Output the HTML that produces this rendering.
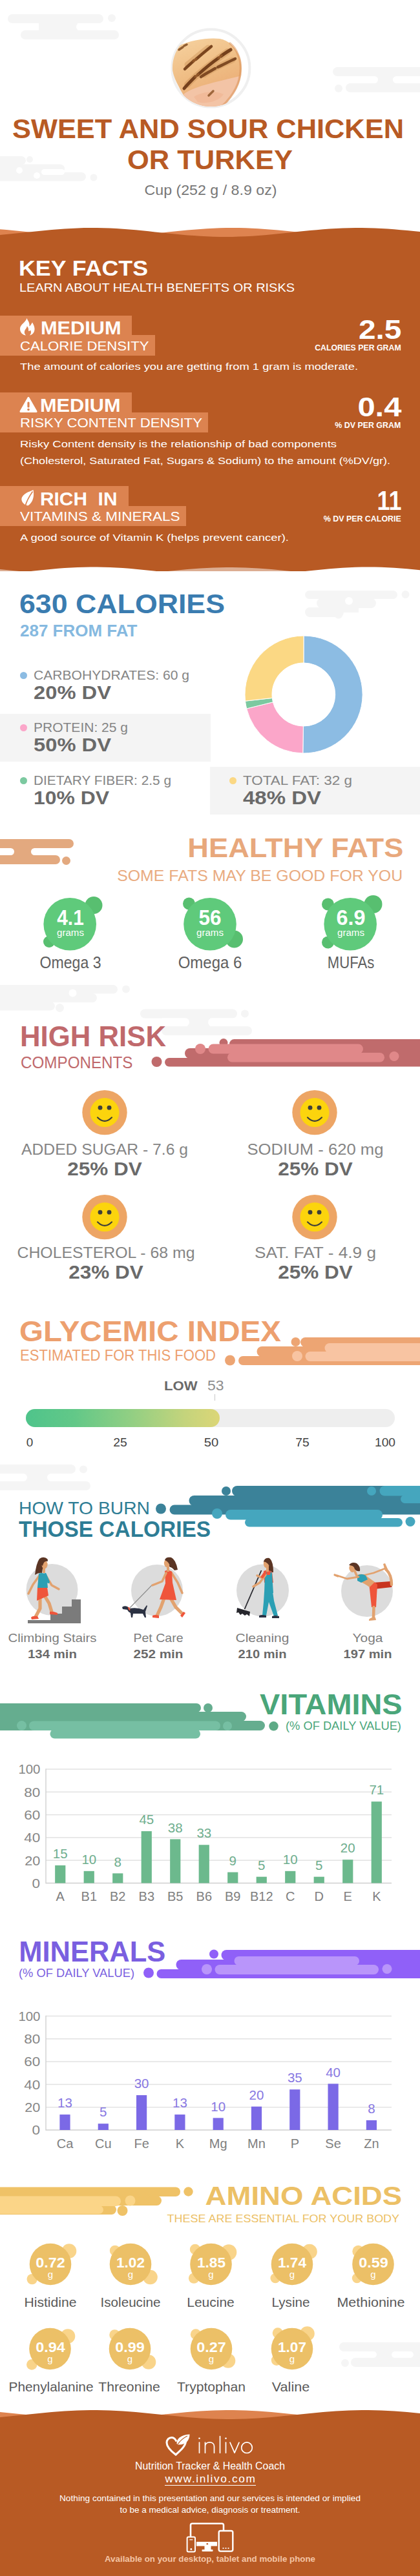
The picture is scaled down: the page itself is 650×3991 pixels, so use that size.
<!DOCTYPE html>
<html><head><meta charset="utf-8"><title>Sweet and sour chicken or turkey</title>
<style>
html,body{margin:0;padding:0;background:#fff}
body{width:650px;height:3991px;position:relative;overflow-x:hidden;font-family:"Liberation Sans",sans-serif}
#pg{position:relative;width:650px;height:3991px;overflow:hidden;background:#fff}
.t{position:absolute;white-space:nowrap;line-height:1}
</style></head><body><div id="pg">
<svg style="position:absolute;left:0;top:0px" width="650" height="400" viewBox="0 0 650 400"><rect x="12.0" y="22.0" width="148.0" height="14.0" rx="7.0" fill="#f5f5f5"/><circle cx="173.0" cy="28.0" r="6.0" fill="#f5f5f5"/><rect x="32.0" y="47.0" width="152.0" height="14.0" rx="7.0" fill="#f5f5f5"/><rect x="60" y="29" width="60" height="25" fill="#f5f5f5"/><rect x="118.0" y="36.0" width="82.0" height="11.0" rx="5.5" fill="#fff"/><rect x="515.0" y="104.0" width="145.0" height="14.0" rx="7.0" fill="#f5f5f5"/><rect x="535.0" y="129.0" width="125.0" height="14.0" rx="7.0" fill="#f5f5f5"/><circle cx="524.0" cy="137.0" r="6.0" fill="#f5f5f5"/><rect x="570" y="111" width="50" height="25" fill="#f5f5f5"/><rect x="608.0" y="118.0" width="52.0" height="11.0" rx="5.5" fill="#fff"/><rect x="540.0" y="118.0" width="45.0" height="11.0" rx="5.5" fill="#fff"/><rect x="-10.0" y="242.0" width="50.0" height="13.5" rx="6.8" fill="#f5f5f5"/><circle cx="46.0" cy="247.0" r="5.0" fill="#f5f5f5"/><rect x="-10.0" y="254.5" width="110.0" height="13.5" rx="6.8" fill="#f5f5f5"/><rect x="-10.0" y="267.0" width="143.0" height="13.5" rx="6.8" fill="#f5f5f5"/><circle cx="145.0" cy="275.0" r="5.5" fill="#f5f5f5"/><circle cx="30.0" cy="264.0" r="5.0" fill="#fff"/><circle cx="57.0" cy="272.0" r="5.0" fill="#fff"/><rect x="64.0" y="262.0" width="36.0" height="9.0" rx="4.5" fill="#fff"/><defs>
<linearGradient id="fg" x1="0" y1="0" x2="0.35" y2="1"><stop offset="0" stop-color="#f6d2a0"/><stop offset="0.55" stop-color="#efbd84"/><stop offset="1" stop-color="#eaa873"/></linearGradient>
<clipPath id="fc"><circle cx="326.4" cy="105.6" r="59.5"/></clipPath></defs>
<circle cx="326.4" cy="105.6" r="60" fill="#fff" stroke="#efefef" stroke-width="4"/>
<g clip-path="url(#fc)">
<path d="M277 71 C295 62 322 58 340 60 C354 62 364 74 369 84 C374 94 375 110 371 124 C366 142 352 160 338 170 L300 170 C292 160 286 152 282 144 C274 130 266 115 266 100 C267 88 270 78 277 71 Z" fill="url(#fg)"/>
<path d="M284 146 C300 134 330 128 371 118 C368 140 352 160 338 172 L300 172 C292 162 287 154 284 146 Z" fill="#f3c4a6"/>
<path d="M300 150 C312 142 334 140 346 146 C340 156 320 162 306 158 Z" fill="#f0b896" opacity=".8"/>
<path d="M356 67 C362 72 366 78 368 84 C373 94 374 110 370 124 C365 142 351 160 337 170" stroke="#d98d52" stroke-width="3.500" fill="none" opacity=".5" stroke-linecap="round"/>
<g stroke-linecap="round" fill="none">
<path d="M290 100 C300 92 310 83 322 74" stroke="#c08448" stroke-width="9" opacity=".35"/>
<path d="M290 131 C304 116 324 100 352 80" stroke="#c08448" stroke-width="10" opacity=".35"/>
<path d="M316 116 C330 106 346 99 360 93" stroke="#c08448" stroke-width="9" opacity=".3"/>
<path d="M277 77 L283 73 M285 71 L289 69" stroke="#7f4a20" stroke-width="3.500" opacity=".85"/>
<path d="M286 107 C291 102 296 98 300 94 M303 92 C310 86 318 79 327 72" stroke="#6f3a15" stroke-width="4.500" opacity=".9"/>
<path d="M299 95 L304 91" stroke="#9a5c2a" stroke-width="3" opacity=".8"/>
<path d="M285 137 C290 131 296 125 302 119 M306 116 C316 107 328 97 338 90 M342 87 C347 83 352 80 357 77" stroke="#693513" stroke-width="5" opacity=".9"/>
<path d="M302 119 L307 115 M338 90 L343 86" stroke="#9a5c2a" stroke-width="3.500" opacity=".8"/>
<path d="M311 119 C318 114 326 110 333 106 M337 104 C346 100 355 95 364 91" stroke="#6f3a15" stroke-width="4.500" opacity=".85"/>
<path d="M323 148 L330 141" stroke="#8a5124" stroke-width="3.500" opacity=".8"/>
</g>
</g><path d="M0,355.3 L10,356.1 L20,357.0 L30,358.0 L40,359.1 L50,360.1 L60,361.2 L70,362.2 L80,363.2 L90,364.1 L100,364.9 L110,365.6 L120,366.2 L130,366.6 L140,366.9 L150,367.0 L160,367.0 L170,366.8 L180,366.4 L190,365.9 L200,365.3 L210,364.5 L220,363.7 L230,362.7 L240,361.7 L250,360.7 L260,359.6 L270,358.6 L280,357.5 L290,356.6 L300,355.7 L310,354.9 L320,354.2 L330,353.7 L340,353.3 L350,353.1 L360,353.0 L370,353.1 L380,353.3 L390,353.7 L400,354.2 L410,354.9 L420,355.7 L430,356.6 L440,357.5 L450,358.6 L460,359.6 L470,360.7 L480,361.7 L490,362.7 L500,363.7 L510,364.5 L520,365.3 L530,365.9 L540,366.4 L550,366.8 L560,367.0 L570,367.0 L580,366.9 L590,366.6 L600,366.2 L610,365.6 L620,364.9 L630,364.1 L640,363.2 L650,362.2 L650,400 L0,400 Z" fill="#de834f"/><path d="M0,364.0 L10,363.1 L20,362.1 L30,361.1 L40,360.0 L50,358.9 L60,357.9 L70,356.9 L80,356.0 L90,355.2 L100,354.5 L110,353.9 L120,353.4 L130,353.1 L140,353.0 L150,353.0 L160,353.2 L170,353.6 L180,354.1 L190,354.7 L200,355.5 L210,356.3 L220,357.3 L230,358.3 L240,359.4 L250,360.4 L260,361.5 L270,362.5 L280,363.5 L290,364.4 L300,365.1 L310,365.8 L320,366.3 L330,366.7 L340,366.9 L350,367.0 L360,366.9 L370,366.6 L380,366.2 L390,365.7 L400,365.0 L410,364.2 L420,363.3 L430,362.3 L440,361.3 L450,360.2 L460,359.1 L470,358.1 L480,357.1 L490,356.2 L500,355.3 L510,354.6 L520,354.0 L530,353.5 L540,353.2 L550,353.0 L560,353.0 L570,353.2 L580,353.5 L590,354.0 L600,354.6 L610,355.3 L620,356.2 L630,357.1 L640,358.1 L650,359.1 L650,400 L0,400 Z" fill="#b85a24"/></svg>
<div class="t" style="top:177.6px;font-size:43px;color:#b85a24;font-weight:700;left:-78.5px;width:800px;text-align:center;transform:scaleX(1.0093);transform-origin:center center;">SWEET AND SOUR CHICKEN</div>
<div class="t" style="top:226.1px;font-size:43px;color:#b85a24;font-weight:700;left:-75.0px;width:800px;text-align:center;transform:scaleX(1.0109);transform-origin:center center;">OR TURKEY</div>
<div class="t" style="top:284.8px;font-size:21.5px;color:#777;left:-74.0px;width:800px;text-align:center;transform:scaleX(1.0788);transform-origin:center center;">Cup (252 g / 8.9 oz)</div>
<div style="position:absolute;left:0;top:385px;width:650px;height:500px;background:#b85a24"></div>
<svg style="position:absolute;left:0;top:860px" width="650" height="45" viewBox="0 860 650 45"><path d="M0,882.1 L10,883.0 L20,883.9 L30,885.0 L40,886.0 L50,887.0 L60,888.1 L70,889.0 L80,889.9 L90,890.8 L100,891.5 L110,892.1 L120,892.5 L130,892.8 L140,893.0 L150,893.0 L160,892.8 L170,892.5 L180,892.1 L190,891.5 L200,890.8 L210,889.9 L220,889.0 L230,888.1 L240,887.0 L250,886.0 L260,885.0 L270,883.9 L280,883.0 L290,882.1 L300,881.2 L310,880.5 L320,879.9 L330,879.5 L340,879.2 L350,879.0 L360,879.0 L370,879.2 L380,879.5 L390,879.9 L400,880.5 L410,881.2 L420,882.1 L430,883.0 L440,883.9 L450,885.0 L460,886.0 L470,887.0 L480,888.1 L490,889.0 L500,889.9 L510,890.8 L520,891.5 L530,892.1 L540,892.5 L550,892.8 L560,893.0 L570,893.0 L580,892.8 L590,892.5 L600,892.1 L610,891.5 L620,890.8 L630,889.9 L640,889.0 L650,888.1 L650,905 L0,905 Z" fill="#fff" opacity=".5"/><path d="M0,890.1 L10,889.1 L20,888.1 L30,887.0 L40,885.9 L50,884.8 L60,883.7 L70,882.7 L80,881.7 L90,880.8 L100,880.1 L110,879.5 L120,879.0 L130,878.7 L140,878.5 L150,878.5 L160,878.7 L170,879.0 L180,879.5 L190,880.1 L200,880.8 L210,881.7 L220,882.7 L230,883.7 L240,884.8 L250,885.9 L260,887.0 L270,888.1 L280,889.1 L290,890.1 L300,890.9 L310,891.7 L320,892.4 L330,892.9 L340,893.3 L350,893.5 L360,893.5 L370,893.4 L380,893.1 L390,892.7 L400,892.1 L410,891.4 L420,890.5 L430,889.6 L440,888.6 L450,887.5 L460,886.4 L470,885.3 L480,884.2 L490,883.2 L500,882.2 L510,881.3 L520,880.5 L530,879.8 L540,879.2 L550,878.8 L560,878.6 L570,878.5 L580,878.6 L590,878.8 L600,879.2 L610,879.8 L620,880.5 L630,881.3 L640,882.2 L650,883.2 L650,905 L0,905 Z" fill="#fff"/></svg>
<div class="t" style="top:398.9px;font-size:33.5px;color:#fff;font-weight:700;left:28.5px;transform:scaleX(1.0673);transform-origin:left center;">KEY FACTS</div>
<div class="t" style="top:438.0px;font-size:17.5px;color:#fff;left:29.5px;transform:scaleX(1.1398);transform-origin:left center;">LEARN ABOUT HEALTH BENEFITS OR RISKS</div>
<div style="position:absolute;left:0;top:488.5px;width:204px;height:31px;background:#dc8350"></div>
<div style="position:absolute;left:0;top:519.0px;width:240px;height:31.5px;background:#dc8350"></div>
<svg style="position:absolute;left:30.5px;top:492.5px;" width="23" height="27" viewBox="0 0 23 27"><path d="M10.5 0 C12 4 15.5 7 14.3 12.5 C16.5 11.5 17.5 9 19 6.5 C21 10 22.8 13.5 22.5 17.5 C22.2 23 18 26.5 14.8 26.5 C17 24.5 17.8 21 16 18.5 C15 20 13.8 20.3 13 19.5 C13.5 16.5 12.5 14 10.8 12.3 C10.5 16 6.8 17.8 6.8 21.8 C6.8 24 8 25.6 9.3 26.5 C4.5 26.3 0 22.5 0 16.5 C0 9.5 8.5 7 10.5 0 Z" fill="#fff"/></svg>
<div class="t" style="top:492.7px;font-size:29.5px;color:#fff;font-weight:700;left:62.5px;transform:scaleX(1.0406);transform-origin:left center;">MEDIUM</div>
<div class="t" style="top:525.6px;font-size:20.5px;color:#fff;left:31.0px;transform:scaleX(1.0810);transform-origin:left center;">CALORIE DENSITY</div>
<div class="t" style="top:489.9px;font-size:42px;color:#fff;font-weight:700;right:29.0px;transform:scaleX(1.1389);transform-origin:right center;">2.5</div>
<div class="t" style="top:533.0px;font-size:12.8px;color:#fff;font-weight:700;right:29.7px;transform:scaleX(0.9628);transform-origin:right center;">CALORIES PER GRAM</div>
<div class="t" style="top:560.4px;font-size:15.5px;color:#fff;left:30.5px;transform:scaleX(1.1833);transform-origin:left center;">The amount of calories you are getting from 1 gram is moderate.</div>
<div style="position:absolute;left:0;top:608.3px;width:204px;height:31px;background:#dc8350"></div>
<div style="position:absolute;left:0;top:638.8px;width:322px;height:31.5px;background:#dc8350"></div>
<svg style="position:absolute;left:29.5px;top:614.5px;" width="28" height="25" viewBox="0 0 28 25"><path d="M14 1.5 L26 22.5 L2 22.5 Z" fill="#fff" stroke="#fff" stroke-width="3" stroke-linejoin="round"/><rect x="12.4" y="7.5" width="3.2" height="9" rx="1.5" fill="#dc8350"/><circle cx="14" cy="19.6" r="1.8" fill="#dc8350"/></svg>
<div class="t" style="top:612.5px;font-size:29.5px;color:#fff;font-weight:700;left:61.5px;transform:scaleX(1.0406);transform-origin:left center;">MEDIUM</div>
<div class="t" style="top:645.4px;font-size:20.5px;color:#fff;left:31.0px;transform:scaleX(1.0842);transform-origin:left center;">RISKY CONTENT DENSITY</div>
<div class="t" style="top:609.7px;font-size:42px;color:#fff;font-weight:700;right:29.0px;transform:scaleX(1.1646);transform-origin:right center;">0.4</div>
<div class="t" style="top:652.8px;font-size:12.8px;color:#fff;font-weight:700;right:29.7px;transform:scaleX(0.9693);transform-origin:right center;">% DV PER GRAM</div>
<div class="t" style="top:680.2px;font-size:15.5px;color:#fff;left:30.5px;transform:scaleX(1.1923);transform-origin:left center;">Risky Content density is the relationship of bad components</div>
<div class="t" style="top:706.2px;font-size:15.5px;color:#fff;left:30.5px;transform:scaleX(1.1648);transform-origin:left center;">(Cholesterol, Saturated Fat, Sugars &amp; Sodium) to the amount (%DV/gr).</div>
<div style="position:absolute;left:0;top:753.3px;width:199px;height:31px;background:#dc8350"></div>
<div style="position:absolute;left:0;top:783.8px;width:288px;height:31.5px;background:#dc8350"></div>
<svg style="position:absolute;left:32.5px;top:758.5px;" width="20" height="25" viewBox="0 0 20 25"><path d="M18.5 0 C20 8 19 18 11 24 C9 24.5 7.5 24 6.5 23 C2 21 -1 16 1 11.5 C4 5 12 3 18.5 0 Z" fill="#fff"/><path d="M17.5 2.5 C13 9 8.5 16 6.3 24.5" stroke="#dc8350" stroke-width="1.7" fill="none"/></svg>
<div class="t" style="top:757.5px;font-size:29.5px;color:#fff;font-weight:700;left:62.0px;transform:scaleX(1.0127);transform-origin:left center;">RICH &nbsp;IN</div>
<div class="t" style="top:790.4px;font-size:20.5px;color:#fff;left:31.0px;transform:scaleX(1.0992);transform-origin:left center;">VITAMINS &amp; MINERALS</div>
<div class="t" style="top:754.7px;font-size:42px;color:#fff;font-weight:700;right:29.0px;transform:scaleX(0.8557);transform-origin:right center;">11</div>
<div class="t" style="top:797.8px;font-size:12.8px;color:#fff;font-weight:700;right:29.7px;transform:scaleX(0.9698);transform-origin:right center;">% DV PER CALORIE</div>
<div class="t" style="top:825.2px;font-size:15.5px;color:#fff;left:30.5px;transform:scaleX(1.1902);transform-origin:left center;">A good source of Vitamin K (helps prevent cancer).</div>
<svg style="position:absolute;left:0;top:905px" width="650" height="60" viewBox="0 905 650 60"><rect x="472.0" y="915.0" width="143.0" height="13.0" rx="6.5" fill="#f5f5f5"/><circle cx="627.5" cy="921.0" r="6.0" fill="#f5f5f5"/><rect x="490.0" y="927.0" width="92.0" height="15.0" rx="7.5" fill="#f5f5f5"/><rect x="472.0" y="941.0" width="60.0" height="15.0" rx="7.5" fill="#f5f5f5"/><rect x="495" y="921" width="60" height="28" fill="#f5f5f5"/><circle cx="540.0" cy="931.0" r="6.0" fill="#fff"/><circle cx="524.0" cy="952.0" r="6.5" fill="#f5f5f5"/></svg>
<div class="t" style="top:914.7px;font-size:42px;color:#3a7cb0;font-weight:700;left:29.5px;transform:scaleX(1.0644);transform-origin:left center;">630 CALORIES</div>
<div class="t" style="top:965.4px;font-size:25.5px;color:#85b9e0;font-weight:700;left:30.5px;transform:scaleX(1.0193);transform-origin:left center;">287 FROM FAT</div>
<div style="position:absolute;left:0;top:1106px;width:325.500px;height:73.700px;background:#f4f4f4"></div>
<div style="position:absolute;left:325px;top:1188px;width:325px;height:73.700px;background:#f4f4f4"></div>
<div style="position:absolute;left:31.2px;top:1040.8px;width:11px;height:11px;border-radius:50%;background:#8cbce3"></div>
<div class="t" style="top:1035.9px;font-size:20.5px;color:#858585;left:52.0px;transform:scaleX(1.0285);transform-origin:left center;">CARBOHYDRATES: 60 g</div>
<div class="t" style="top:1058.3px;font-size:29.5px;color:#6a6a6a;font-weight:700;left:52.0px;transform:scaleX(1.1087);transform-origin:left center;">20% DV</div>
<div style="position:absolute;left:31.2px;top:1121.5px;width:11px;height:11px;border-radius:50%;background:#fba6c9"></div>
<div class="t" style="top:1116.6px;font-size:20.5px;color:#858585;left:52.0px;transform:scaleX(1.0251);transform-origin:left center;">PROTEIN: 25 g</div>
<div class="t" style="top:1139.0px;font-size:29.5px;color:#6a6a6a;font-weight:700;left:52.0px;transform:scaleX(1.1087);transform-origin:left center;">50% DV</div>
<div style="position:absolute;left:31.2px;top:1203.5px;width:11px;height:11px;border-radius:50%;background:#7cc9a0"></div>
<div class="t" style="top:1198.6px;font-size:20.5px;color:#858585;left:52.0px;transform:scaleX(1.0160);transform-origin:left center;">DIETARY FIBER: 2.5 g</div>
<div class="t" style="top:1221.0px;font-size:29.5px;color:#6a6a6a;font-weight:700;left:52.0px;transform:scaleX(1.0810);transform-origin:left center;">10% DV</div>
<div style="position:absolute;left:355.0px;top:1203.5px;width:11px;height:11px;border-radius:50%;background:#fbd884"></div>
<div class="t" style="top:1198.6px;font-size:20.5px;color:#858585;left:375.8px;transform:scaleX(1.0960);transform-origin:left center;">TOTAL FAT: 32 g</div>
<div class="t" style="top:1221.0px;font-size:29.5px;color:#6a6a6a;font-weight:700;left:375.8px;transform:scaleX(1.1179);transform-origin:left center;">48% DV</div>
<svg style="position:absolute;left:0;top:980px" width="650" height="192" viewBox="0 980 650 192"><path d="M470.00,985.00 A91,91 0 1 1 468.80,1166.99 L469.36,1125.00 A49,49 0 1 0 470.00,1027.00 Z" fill="#8cbce3" stroke="#fff" stroke-width="1"/><path d="M468.80,1166.99 A91,91 0 0 1 381.68,1097.91 L422.44,1087.80 A49,49 0 0 0 469.36,1125.00 Z" fill="#fba6c9" stroke="#fff" stroke-width="1"/><path d="M381.68,1097.91 A91,91 0 0 1 379.57,1086.15 L421.31,1081.46 A49,49 0 0 0 422.44,1087.80 Z" fill="#7cc9a0" stroke="#fff" stroke-width="1"/><path d="M379.57,1086.15 A91,91 0 0 1 470.00,985.00 L470.00,1027.00 A49,49 0 0 0 421.31,1081.46 Z" fill="#fbd884" stroke="#fff" stroke-width="1"/></svg>
<svg style="position:absolute;left:0;top:1290px" width="650" height="60" viewBox="0 1290 650 60"><rect x="-20.0" y="1300.0" width="134.0" height="14.0" rx="7.0" fill="#e3a97f"/><rect x="-20.0" y="1325.0" width="113.0" height="14.0" rx="7.0" fill="#e3a97f"/><rect x="10" y="1307" width="50" height="25" fill="#e3a97f"/><rect x="-20.0" y="1314.0" width="42.0" height="11.0" rx="5.5" fill="#fff"/><rect x="48.0" y="1314.0" width="82.0" height="11.0" rx="5.5" fill="#fff"/><circle cx="102.5" cy="1333.5" r="6.5" fill="#e3a97f"/></svg>
<div class="t" style="top:1292.9px;font-size:42px;color:#e8a87c;font-weight:700;right:25.5px;transform:scaleX(1.0762);transform-origin:right center;">HEALTHY FATS</div>
<div class="t" style="top:1344.8px;font-size:24.5px;color:#e9ab80;right:27.0px;transform:scaleX(1.0157);transform-origin:right center;">SOME FATS MAY BE GOOD FOR YOU</div>
<svg style="position:absolute;left:0;top:1380px" width="650" height="100" viewBox="0 1380 650 100"><circle cx="145.0" cy="1402.5" r="13.5" fill="#58bf70"/><circle cx="76.0" cy="1459.0" r="9.0" fill="#58bf70"/><circle cx="108.2" cy="1431.8" r="40.8" fill="#5fca7b"/><circle cx="292.5" cy="1400.0" r="9.5" fill="#58bf70"/><circle cx="362.5" cy="1455.0" r="13.5" fill="#58bf70"/><circle cx="325.0" cy="1431.8" r="40.8" fill="#5fca7b"/><circle cx="507.5" cy="1401.0" r="9.5" fill="#58bf70"/><circle cx="577.5" cy="1401.0" r="14.0" fill="#58bf70"/><circle cx="507.5" cy="1460.0" r="9.5" fill="#58bf70"/><circle cx="542.2" cy="1431.8" r="40.8" fill="#5fca7b"/></svg>
<div class="t" style="top:1404.6px;font-size:33px;color:#fff;font-weight:700;left:-291.5px;width:800px;text-align:center;transform:scaleX(0.9046);transform-origin:center center;">4.1</div>
<div class="t" style="top:1436.9px;font-size:15.5px;color:#fff;left:-291.5px;width:800px;text-align:center;transform:scaleX(0.9750);transform-origin:center center;">grams</div>
<div class="t" style="top:1479.4px;font-size:25.5px;color:#606060;left:-291.5px;width:800px;text-align:center;transform:scaleX(0.9057);transform-origin:center center;">Omega 3</div>
<div class="t" style="top:1404.6px;font-size:33px;color:#fff;font-weight:700;left:-75.0px;width:800px;text-align:center;transform:scaleX(0.9532);transform-origin:center center;">56</div>
<div class="t" style="top:1436.9px;font-size:15.5px;color:#fff;left:-75.0px;width:800px;text-align:center;transform:scaleX(0.9750);transform-origin:center center;">grams</div>
<div class="t" style="top:1479.4px;font-size:25.5px;color:#606060;left:-75.0px;width:800px;text-align:center;transform:scaleX(0.9391);transform-origin:center center;">Omega 6</div>
<div class="t" style="top:1404.6px;font-size:33px;color:#fff;font-weight:700;left:142.5px;width:800px;text-align:center;transform:scaleX(0.9809);transform-origin:center center;">6.9</div>
<div class="t" style="top:1436.9px;font-size:15.5px;color:#fff;left:142.5px;width:800px;text-align:center;transform:scaleX(0.9750);transform-origin:center center;">grams</div>
<div class="t" style="top:1479.4px;font-size:25.5px;color:#606060;left:142.5px;width:800px;text-align:center;transform:scaleX(0.8673);transform-origin:center center;">MUFAs</div>
<svg style="position:absolute;left:0;top:1520px" width="650" height="90" viewBox="0 1520 650 90"><rect x="-20.0" y="1526.0" width="202.0" height="13.5" rx="6.8" fill="#f5f5f5"/><circle cx="195.0" cy="1532.5" r="6.0" fill="#f5f5f5"/><rect x="-20.0" y="1539.0" width="170.0" height="14.0" rx="7.0" fill="#f5f5f5"/><rect x="-20.0" y="1552.0" width="105.0" height="13.5" rx="6.8" fill="#f5f5f5"/><circle cx="92.5" cy="1561.5" r="6.5" fill="#f5f5f5"/><circle cx="112.5" cy="1538.5" r="6.0" fill="#fff"/><rect x="217.0" y="1563.5" width="150.0" height="14.0" rx="7.0" fill="#f5f5f5"/><circle cx="379.0" cy="1570.5" r="6.0" fill="#f5f5f5"/><rect x="250.0" y="1590.0" width="140.0" height="14.0" rx="7.0" fill="#f5f5f5"/><rect x="290" y="1570" width="35" height="27" fill="#f5f5f5"/><rect x="322.0" y="1577.5" width="50.0" height="12.5" rx="6.2" fill="#fff"/><rect x="245.0" y="1577.5" width="48.0" height="12.5" rx="6.2" fill="#fff"/></svg>
<div class="t" style="top:1582.9px;font-size:45px;color:#c0696c;font-weight:700;left:30.5px;transform:scaleX(0.9720);transform-origin:left center;">HIGH RISK</div>
<div class="t" style="top:1633.0px;font-size:26px;color:#c0696c;left:32.0px;transform:scaleX(0.9311);transform-origin:left center;">COMPONENTS</div>
<svg style="position:absolute;left:0;top:1600px" width="650" height="60" viewBox="0 1600 650 60"><circle cx="242.5" cy="1645.0" r="8.0" fill="#c06b6c"/><rect x="255.0" y="1639.0" width="415.0" height="13.5" rx="6.8" fill="#c06b6c"/><rect x="286.0" y="1624.0" width="384.0" height="16.0" rx="8.0" fill="#c06b6c"/><rect x="355.0" y="1610.0" width="315.0" height="15.0" rx="7.5" fill="#c06b6c"/><rect x="300" y="1632" width="360" height="14" fill="#c06b6c"/><rect x="370" y="1617" width="290" height="14" fill="#c06b6c"/><circle cx="346.0" cy="1615.5" r="6.5" fill="#c06b6c"/><circle cx="310.0" cy="1625.0" r="8.0" fill="#e08889"/><rect x="322.5" y="1617.5" width="239.5" height="15.0" rx="7.5" fill="#e08889"/><rect x="352.0" y="1631.0" width="243.0" height="14.5" rx="7.2" fill="#e08889"/><rect x="360" y="1625" width="195" height="14" fill="#e08889"/><circle cx="610.0" cy="1636.5" r="7.5" fill="#e08889"/></svg>
<svg style="position:absolute;left:0;top:1680px" width="650" height="245" viewBox="0 1680 650 245"><circle cx="162.0" cy="1723.6" r="34.7" fill="#eda565"/><circle cx="162.0" cy="1723.6" r="22.5" fill="#fcd40d"/><circle cx="155.0" cy="1716.2" r="3.4" fill="#3f3f3a"/><circle cx="169.0" cy="1716.2" r="3.4" fill="#3f3f3a"/><path d="M151,1731.3 Q162,1742.5 173,1731.3" stroke="#3f3f3a" stroke-width="2.2" fill="none" stroke-linecap="round"/><circle cx="487.0" cy="1723.6" r="34.7" fill="#eda565"/><circle cx="487.0" cy="1723.6" r="22.5" fill="#fcd40d"/><circle cx="480.0" cy="1716.2" r="3.4" fill="#3f3f3a"/><circle cx="494.0" cy="1716.2" r="3.4" fill="#3f3f3a"/><path d="M476,1731.3 Q487,1742.5 498,1731.3" stroke="#3f3f3a" stroke-width="2.2" fill="none" stroke-linecap="round"/><circle cx="162.0" cy="1885.6" r="34.7" fill="#eda565"/><circle cx="162.0" cy="1885.6" r="22.5" fill="#fcd40d"/><circle cx="155.0" cy="1878.2" r="3.4" fill="#3f3f3a"/><circle cx="169.0" cy="1878.2" r="3.4" fill="#3f3f3a"/><path d="M151,1893.3 Q162,1904.5 173,1893.3" stroke="#3f3f3a" stroke-width="2.2" fill="none" stroke-linecap="round"/><circle cx="487.0" cy="1885.6" r="34.7" fill="#eda565"/><circle cx="487.0" cy="1885.6" r="22.5" fill="#fcd40d"/><circle cx="480.0" cy="1878.2" r="3.4" fill="#3f3f3a"/><circle cx="494.0" cy="1878.2" r="3.4" fill="#3f3f3a"/><path d="M476,1893.3 Q487,1904.5 498,1893.3" stroke="#3f3f3a" stroke-width="2.2" fill="none" stroke-linecap="round"/></svg>
<div class="t" style="top:1768.6px;font-size:24.5px;color:#858585;left:-238.0px;width:800px;text-align:center;transform:scaleX(1.0079);transform-origin:center center;">ADDED SUGAR - 7.6 g</div>
<div class="t" style="top:1797.0px;font-size:29px;color:#6a6a6a;font-weight:700;left:-238.0px;width:800px;text-align:center;transform:scaleX(1.0856);transform-origin:center center;">25% DV</div>
<div class="t" style="top:1768.6px;font-size:24.5px;color:#858585;left:88.0px;width:800px;text-align:center;transform:scaleX(1.0471);transform-origin:center center;">SODIUM - 620 mg</div>
<div class="t" style="top:1797.0px;font-size:29px;color:#6a6a6a;font-weight:700;left:88.0px;width:800px;text-align:center;transform:scaleX(1.0856);transform-origin:center center;">25% DV</div>
<div class="t" style="top:1928.6px;font-size:24.5px;color:#858585;left:-236.0px;width:800px;text-align:center;transform:scaleX(1.0133);transform-origin:center center;">CHOLESTEROL - 68 mg</div>
<div class="t" style="top:1957.0px;font-size:29px;color:#6a6a6a;font-weight:700;left:-236.0px;width:800px;text-align:center;transform:scaleX(1.0856);transform-origin:center center;">23% DV</div>
<div class="t" style="top:1928.6px;font-size:24.5px;color:#858585;left:88.0px;width:800px;text-align:center;transform:scaleX(1.0703);transform-origin:center center;">SAT. FAT - 4.9 g</div>
<div class="t" style="top:1957.0px;font-size:29px;color:#6a6a6a;font-weight:700;left:88.0px;width:800px;text-align:center;transform:scaleX(1.0856);transform-origin:center center;">25% DV</div>
<div class="t" style="top:2039.9px;font-size:45px;color:#eda06f;font-weight:700;left:30.0px;transform:scaleX(1.0563);transform-origin:left center;">GLYCEMIC INDEX</div>
<div class="t" style="top:2089.2px;font-size:23px;color:#eda06f;left:30.5px;transform:scaleX(0.9587);transform-origin:left center;">ESTIMATED FOR THIS FOOD</div>
<svg style="position:absolute;left:0;top:2060px" width="650" height="65" viewBox="0 2060 650 65"><circle cx="356.0" cy="2107.5" r="8.0" fill="#eda573"/><rect x="369.0" y="2101.0" width="301.0" height="14.0" rx="7.0" fill="#eda573"/><rect x="397.5" y="2086.0" width="272.5" height="16.0" rx="8.0" fill="#eda573"/><rect x="465.0" y="2072.0" width="205.0" height="15.0" rx="7.5" fill="#eda573"/><rect x="410" y="2094" width="250" height="14" fill="#eda573"/><rect x="480" y="2079" width="180" height="14" fill="#eda573"/><circle cx="457.5" cy="2079.0" r="7.0" fill="#eda573"/><circle cx="460.0" cy="2101.0" r="8.0" fill="#f8c4a2"/><rect x="472.5" y="2094.0" width="197.5" height="15.0" rx="7.5" fill="#f8c4a2"/><rect x="502.5" y="2081.0" width="167.5" height="15.0" rx="7.5" fill="#f8c4a2"/><rect x="515" y="2088" width="140" height="14" fill="#f8c4a2"/></svg>
<div class="t" style="top:2136.6px;font-size:20.5px;color:#6a6a6a;font-weight:700;left:254.0px;transform:scaleX(1.0768);transform-origin:left center;">LOW</div>
<div class="t" style="top:2135.9px;font-size:22px;color:#8e8e8e;left:320.5px;transform:scaleX(1.0415);transform-origin:left center;">53</div>
<div style="position:absolute;left:331.500px;top:2160px;width:1.500px;height:10px;background:#c8c8c8"></div>
<div style="position:absolute;left:40px;top:2183px;width:571px;height:28px;border-radius:14px;background:#eeeeee"></div>
<div style="position:absolute;left:40px;top:2183px;width:300px;height:28px;border-radius:14px;background:linear-gradient(90deg,#4fc48b 0%,#62c888 25%,#93cf83 55%,#c4d47c 82%,#dcd677 100%)"></div>
<div class="t" style="top:2225.8px;font-size:18.5px;color:#444;left:-354.0px;width:800px;text-align:center;transform:scaleX(1.0197);transform-origin:center center;">0</div>
<div class="t" style="top:2225.8px;font-size:18.5px;color:#444;left:-214.0px;width:800px;text-align:center;transform:scaleX(1.0448);transform-origin:center center;">25</div>
<div class="t" style="top:2225.8px;font-size:18.5px;color:#444;left:-73.0px;width:800px;text-align:center;transform:scaleX(1.0934);transform-origin:center center;">50</div>
<div class="t" style="top:2225.8px;font-size:18.5px;color:#444;left:68.0px;width:800px;text-align:center;transform:scaleX(1.0448);transform-origin:center center;">75</div>
<div class="t" style="top:2225.8px;font-size:18.5px;color:#444;left:196.0px;width:800px;text-align:center;transform:scaleX(1.0364);transform-origin:center center;">100</div>
<svg style="position:absolute;left:0;top:2262px" width="650" height="50" viewBox="0 2262 650 50"><rect x="-20.0" y="2269.0" width="137.0" height="14.0" rx="7.0" fill="#f5f5f5"/><circle cx="129.0" cy="2276.5" r="6.0" fill="#f5f5f5"/><rect x="-20.0" y="2295.0" width="160.0" height="14.0" rx="7.0" fill="#f5f5f5"/><rect x="30" y="2276" width="55" height="26" fill="#f5f5f5"/><rect x="-20.0" y="2283.0" width="62.0" height="12.0" rx="6.0" fill="#fff"/><rect x="73.0" y="2283.0" width="77.0" height="12.0" rx="6.0" fill="#fff"/></svg>
<div class="t" style="top:2321.9px;font-size:28.5px;color:#2e7d95;left:29.0px;transform:scaleX(0.9912);transform-origin:left center;">HOW TO BURN</div>
<div class="t" style="top:2351.8px;font-size:34.5px;color:#2e7d95;font-weight:700;left:29.0px;transform:scaleX(0.9684);transform-origin:left center;">THOSE CALORIES</div>
<svg style="position:absolute;left:0;top:2295px" width="650" height="77" viewBox="0 2295 650 77"><circle cx="249.0" cy="2337.5" r="8.0" fill="#3b8299"/><rect x="262.5" y="2331.5" width="407.5" height="15.0" rx="7.5" fill="#3b8299"/><rect x="292.5" y="2317.0" width="377.5" height="16.0" rx="8.0" fill="#3b8299"/><rect x="359.0" y="2302.0" width="311.0" height="16.0" rx="8.0" fill="#3b8299"/><rect x="306" y="2324" width="350" height="14" fill="#3b8299"/><rect x="372" y="2309" width="290" height="14" fill="#3b8299"/><circle cx="350.0" cy="2310.0" r="7.0" fill="#3b8299"/><circle cx="336.0" cy="2345.0" r="8.0" fill="#45a6be"/><rect x="349.0" y="2339.0" width="243.0" height="15.5" rx="7.8" fill="#45a6be"/><rect x="379.0" y="2352.0" width="244.0" height="13.5" rx="6.8" fill="#45a6be"/><rect x="386" y="2346" width="197" height="13" fill="#45a6be"/><circle cx="635.0" cy="2357.5" r="7.5" fill="#45a6be"/><circle cx="575.0" cy="2310.0" r="7.0" fill="#45a6be"/><rect x="587.5" y="2302.0" width="82.5" height="15.5" rx="7.8" fill="#45a6be"/><rect x="620.0" y="2316.0" width="50.0" height="13.0" rx="6.5" fill="#45a6be"/><rect x="627" y="2309" width="30" height="14" fill="#45a6be"/></svg>
<svg style="position:absolute;left:0;top:2405px" width="650" height="115" viewBox="0 2405 650 115"><circle cx="80.5" cy="2463.0" r="40.0" fill="#dcdcdc"/><path d="M43 2510 H78 V2500 H96 V2489 H111 V2478 H125 V2515 H43 Z" fill="#7b7b7b"/><path d="M61 2441 L51 2455 L44 2469" stroke="#e2a26f" stroke-width="3.5" fill="none" stroke-linecap="round" stroke-linejoin="round"/><path d="M62 2476 L62 2492 L55 2505" stroke="#e2a26f" stroke-width="5.2" fill="none" stroke-linecap="round" stroke-linejoin="round"/><path d="M48 2506 Q50 2503 58 2504 L60 2508 L49 2509 Z" fill="#ef553b"/><path d="M70 2474 L76 2484 L80 2497" stroke="#e2a26f" stroke-width="5.2" fill="none" stroke-linecap="round" stroke-linejoin="round"/><path d="M77 2497 Q82 2496 89 2499 L89 2502 L77 2501 Z" fill="#ef553b"/><path d="M58 2459 L73 2459 L75 2472 L57 2480 Z" fill="#ef553b"/><path d="M60 2438 Q66 2435 72 2440 L74 2460 L58 2460 Z" fill="#2b9fb4"/><path d="M72 2443 L80 2456 L91 2462" stroke="#e2a26f" stroke-width="3.5" fill="none" stroke-linecap="round" stroke-linejoin="round"/><path d="M70 2439 L75 2451" stroke="#2b9fb4" stroke-width="4" stroke-linecap="round"/><rect x="66" y="2428" width="4" height="9" fill="#e2a26f"/><path d="M54 2440 Q56 2422 61 2415 Q68 2410 74 2416 L70 2421 Q66 2426 65 2437 Q60 2436 54 2440 Z" fill="#5b3524"/><ellipse cx="69" cy="2424" rx="4.6" ry="6.4" fill="#e2a26f"/><path d="M63 2424 Q62 2414 69 2414 Q74 2414 74 2419 Q68 2417 66 2426 Z" fill="#5b3524"/><circle cx="243.0" cy="2464.0" r="40.0" fill="#dcdcdc"/><path d="M235 2456 L201 2491" stroke="#8c8c8c" stroke-width="1.1"/><path d="M189 2490 Q192 2487 197 2489 L201 2492 Q212 2490 222 2494 L227 2487 L228 2488 L225 2497 L226 2506 L224 2506 L221 2500 L206 2500 L205 2506 L203 2506 L202 2499 Q198 2497 197 2494 L190 2493 Z" fill="#2b3142"/><rect x="198.5" y="2490" width="2.2" height="5" fill="#ef553b" transform="rotate(-25 199.5 2492)"/><path d="M265 2436 L275 2452 L282 2468" stroke="#e2a26f" stroke-width="3.5" fill="none" stroke-linecap="round" stroke-linejoin="round"/><path d="M264 2476 L272 2490 L281 2499" stroke="#e2a26f" stroke-width="5.2" fill="none" stroke-linecap="round" stroke-linejoin="round"/><path d="M279 2503 L284 2497 L287 2499 L282 2506 Z" fill="#ef553b"/><path d="M254 2476 L249 2490 L243 2503" stroke="#e2a26f" stroke-width="5.2" fill="none" stroke-linecap="round" stroke-linejoin="round"/><path d="M236 2503 Q240 2501 246 2503 L246 2507 L236 2506 Z" fill="#ef553b"/><path d="M255 2434 Q260 2431 266 2435 L267 2452 L273 2479 L247 2478 L256 2453 Z" fill="#ef553b"/><path d="M257 2437 L251 2450 L236 2456" stroke="#e2a26f" stroke-width="3.5" fill="none" stroke-linecap="round" stroke-linejoin="round"/><rect x="258" y="2427" width="4" height="8" fill="#e2a26f"/><path d="M256 2418 Q258 2412 265 2413 Q272 2416 275 2432 L270 2433 Q266 2428 263 2428 Z" fill="#5b3524"/><ellipse cx="258.5" cy="2422" rx="4.6" ry="6.2" fill="#e2a26f"/><path d="M255 2417 Q257 2412 263 2413 Q266 2418 263 2427 Q262 2420 255 2417 Z" fill="#5b3524"/><circle cx="406.5" cy="2464.0" r="40.5" fill="#dcdcdc"/><path d="M408 2420 Q411 2413 418 2415 Q423 2420 423 2436 L416 2436 Z" fill="#5b3524"/><path d="M409 2466 L422 2466 L424 2480 L430 2503 L424 2504 L416 2482 L412 2503 L406 2503 L408 2482 Z" fill="#2b9fb4"/><path d="M401 2503 Q405 2501 412 2503 L412 2506 L401 2506 Z" fill="#2b3142"/><path d="M421 2504 Q426 2502 432 2504 L432 2507 L421 2507 Z" fill="#2b3142"/><path d="M408 2434 Q415 2431 421 2435 L423 2452 L409 2452 Z" fill="#ef553b"/><path d="M410 2438 L412 2434 L413 2440 L418 2440 L419 2434 L421 2438 L423 2468 L409 2468 Z" fill="#2b9fb4"/><path d="M404.5 2433 L378.5 2493" stroke="#2a2a30" stroke-width="1.8"/><path d="M367 2491 L387 2497 L386 2504 L382 2501 L379 2503 L375 2500 L372 2502 L369 2498 L366 2499 Z" fill="#26262c"/><path d="M410 2438 L404 2444 L398 2441" stroke="#e2a26f" stroke-width="3.5" fill="none" stroke-linecap="round" stroke-linejoin="round"/><path d="M411 2440 L402 2452 L392 2458" stroke="#e2a26f" stroke-width="3.5" fill="none" stroke-linecap="round" stroke-linejoin="round"/><path d="M410 2437 L406 2443" stroke="#ef553b" stroke-width="4.4" stroke-linecap="round"/><rect x="412" y="2427" width="4" height="8" fill="#e2a26f"/><ellipse cx="412.5" cy="2423" rx="4.6" ry="6.2" fill="#e2a26f"/><path d="M408 2419 Q410 2413 417 2414 Q420 2420 418 2430 Q416 2421 408 2419 Z" fill="#5b3524"/><circle cx="568.0" cy="2465.0" r="40.0" fill="#dcdcdc"/><path d="M577 2452 L604 2450 Q609 2453 606 2459 L579 2462 Z" fill="#c8341f"/><path d="M606 2455 Q606 2440 598 2432" stroke="#e2a26f" stroke-width="4.4" fill="none" stroke-linecap="round"/><path d="M596 2434 L593 2423 L596 2422 L600 2431 Z" fill="#e2a26f"/><path d="M561 2441 L578 2437 L596 2430" stroke="#e2a26f" stroke-width="2.8" fill="none" stroke-linecap="round" stroke-linejoin="round"/><path d="M571 2452 Q578 2448 584 2455 L582 2490 L575 2490 Z" fill="#ef553b"/><path d="M578.5 2490 L578 2506" stroke="#e2a26f" stroke-width="4.6" stroke-linecap="round"/><path d="M571 2509 Q575 2505 581 2506 L582 2510 L571 2511 Z" fill="#e2a26f"/><path d="M553 2440 Q560 2437 566 2441 L580 2451 L572 2459 Q562 2452 554 2449 Z" fill="#e2a26f"/><path d="M553 2441 Q560 2437 566 2441 L569 2447 L559 2452 L553 2449 Z" fill="#2b9fb4"/><path d="M555 2443 L537 2446 L522 2441" stroke="#e2a26f" stroke-width="2.8" fill="none" stroke-linecap="round" stroke-linejoin="round"/><path d="M523 2442 L518 2440" stroke="#e2a26f" stroke-width="3.2" stroke-linecap="round"/><path d="M549 2434 L552 2441" stroke="#e2a26f" stroke-width="3.6" stroke-linecap="round"/><ellipse cx="545" cy="2430" rx="4.6" ry="6" fill="#e2a26f" transform="rotate(-15 545 2430)"/><path d="M540 2425 Q544 2419 552 2422 Q558 2427 557 2434 Q552 2435 549 2431 Q548 2425 540 2425 Z" fill="#5b3524"/></svg>
<div class="t" style="top:2529.3px;font-size:18.5px;color:#7d7d7d;left:-319.5px;width:800px;text-align:center;transform:scaleX(1.1012);transform-origin:center center;">Climbing Stairs</div>
<div class="t" style="top:2554.3px;font-size:18.5px;color:#6a6a6a;font-weight:700;left:-319.5px;width:800px;text-align:center;transform:scaleX(1.1029);transform-origin:center center;">134 min</div>
<div class="t" style="top:2529.3px;font-size:18.5px;color:#7d7d7d;left:-155.5px;width:800px;text-align:center;transform:scaleX(1.0546);transform-origin:center center;">Pet Care</div>
<div class="t" style="top:2554.3px;font-size:18.5px;color:#6a6a6a;font-weight:700;left:-155.5px;width:800px;text-align:center;transform:scaleX(1.1175);transform-origin:center center;">252 min</div>
<div class="t" style="top:2529.3px;font-size:18.5px;color:#7d7d7d;left:6.0px;width:800px;text-align:center;transform:scaleX(1.1365);transform-origin:center center;">Cleaning</div>
<div class="t" style="top:2554.3px;font-size:18.5px;color:#6a6a6a;font-weight:700;left:6.0px;width:800px;text-align:center;transform:scaleX(1.0884);transform-origin:center center;">210 min</div>
<div class="t" style="top:2529.3px;font-size:18.5px;color:#7d7d7d;left:168.5px;width:800px;text-align:center;transform:scaleX(1.1321);transform-origin:center center;">Yoga</div>
<div class="t" style="top:2554.3px;font-size:18.5px;color:#6a6a6a;font-weight:700;left:168.5px;width:800px;text-align:center;transform:scaleX(1.0884);transform-origin:center center;">197 min</div>
<svg style="position:absolute;left:0;top:2630px" width="650" height="70" viewBox="0 2630 650 70"><rect x="-20.0" y="2639.0" width="331.0" height="14.0" rx="7.0" fill="#65ad8f"/><rect x="-20.0" y="2652.0" width="401.0" height="15.0" rx="7.5" fill="#65ad8f"/><rect x="-20.0" y="2666.0" width="430.0" height="15.0" rx="7.5" fill="#65ad8f"/><rect x="-10" y="2646" width="310" height="14" fill="#65ad8f"/><rect x="-10" y="2659" width="380" height="14" fill="#65ad8f"/><circle cx="322.0" cy="2646.0" r="7.0" fill="#65ad8f"/><circle cx="423.5" cy="2674.3" r="7.2" fill="#5daa86"/><circle cx="33.5" cy="2673.5" r="7.5" fill="#76bfa3"/><rect x="45.0" y="2666.5" width="296.0" height="14.5" rx="7.2" fill="#76bfa3"/><rect x="77.5" y="2679.0" width="232.5" height="14.5" rx="7.2" fill="#76bfa3"/><rect x="90" y="2673" width="212" height="14" fill="#76bfa3"/><circle cx="352.0" cy="2674.0" r="7.0" fill="#76bfa3"/></svg>
<div class="t" style="top:2619.5px;font-size:43.5px;color:#4aa67a;font-weight:700;right:27.0px;transform:scaleX(1.0777);transform-origin:right center;">VITAMINS</div>
<div class="t" style="top:2665.3px;font-size:18.5px;color:#4aa67a;right:29.0px;transform:scaleX(0.9893);transform-origin:right center;">(% OF DAILY VALUE)</div>
<svg style="position:absolute;left:0;top:2731px" width="650" height="196" viewBox="0 2731 650 196"><rect x="71" y="2916.75" width="535" height="1.5" fill="#cfcfcf"/><rect x="71" y="2881.45" width="535" height="1.5" fill="#e2e2e2"/><rect x="71" y="2846.15" width="535" height="1.5" fill="#e2e2e2"/><rect x="71" y="2810.85" width="535" height="1.5" fill="#e2e2e2"/><rect x="71" y="2775.55" width="535" height="1.5" fill="#e2e2e2"/><rect x="71" y="2740.25" width="535" height="1.5" fill="#e2e2e2"/><rect x="70.25" y="2740.25" width="1.5" height="178.00" fill="#d4d4d4"/><rect x="85.15" y="2890.03" width="16.2" height="27.48" fill="#6cb98d"/><rect x="129.65" y="2898.85" width="16.2" height="18.65" fill="#6cb98d"/><rect x="174.15" y="2902.38" width="16.2" height="15.12" fill="#6cb98d"/><rect x="218.65" y="2837.07" width="16.2" height="80.42" fill="#6cb98d"/><rect x="263.15" y="2849.43" width="16.2" height="68.07" fill="#6cb98d"/><rect x="307.65" y="2858.26" width="16.2" height="59.24" fill="#6cb98d"/><rect x="352.15" y="2900.61" width="16.2" height="16.88" fill="#6cb98d"/><rect x="396.65" y="2907.68" width="16.2" height="9.82" fill="#6cb98d"/><rect x="441.15" y="2898.85" width="16.2" height="18.65" fill="#6cb98d"/><rect x="485.65" y="2907.68" width="16.2" height="9.82" fill="#6cb98d"/><rect x="530.15" y="2881.20" width="16.2" height="36.30" fill="#6cb98d"/><rect x="574.65" y="2791.18" width="16.2" height="126.31" fill="#6cb98d"/></svg>
<div class="t" style="top:2907.8px;font-size:20px;color:#878787;right:587.5px;transform:scaleX(1.1236);transform-origin:right center;">0</div>
<div class="t" style="top:2872.5px;font-size:20px;color:#878787;right:587.5px;transform:scaleX(1.0787);transform-origin:right center;">20</div>
<div class="t" style="top:2837.2px;font-size:20px;color:#878787;right:587.5px;transform:scaleX(1.1236);transform-origin:right center;">40</div>
<div class="t" style="top:2801.9px;font-size:20px;color:#878787;right:587.5px;transform:scaleX(1.1236);transform-origin:right center;">60</div>
<div class="t" style="top:2766.6px;font-size:20px;color:#878787;right:587.5px;transform:scaleX(1.1236);transform-origin:right center;">80</div>
<div class="t" style="top:2731.3px;font-size:20px;color:#878787;right:587.5px;transform:scaleX(1.0187);transform-origin:right center;">100</div>
<div class="t" style="top:2928.1px;font-size:20px;color:#808080;left:-306.8px;width:800px;text-align:center;">A</div>
<div class="t" style="top:2862.2px;font-size:20.5px;color:#6fae8e;left:-306.8px;width:800px;text-align:center;">15</div>
<div class="t" style="top:2928.1px;font-size:20px;color:#808080;left:-262.2px;width:800px;text-align:center;">B1</div>
<div class="t" style="top:2871.0px;font-size:20.5px;color:#6fae8e;left:-262.2px;width:800px;text-align:center;">10</div>
<div class="t" style="top:2928.1px;font-size:20px;color:#808080;left:-217.8px;width:800px;text-align:center;">B2</div>
<div class="t" style="top:2874.5px;font-size:20.5px;color:#6fae8e;left:-217.8px;width:800px;text-align:center;">8</div>
<div class="t" style="top:2928.1px;font-size:20px;color:#808080;left:-173.2px;width:800px;text-align:center;">B3</div>
<div class="t" style="top:2809.2px;font-size:20.5px;color:#6fae8e;left:-173.2px;width:800px;text-align:center;">45</div>
<div class="t" style="top:2928.1px;font-size:20px;color:#808080;left:-128.8px;width:800px;text-align:center;">B5</div>
<div class="t" style="top:2821.6px;font-size:20.5px;color:#6fae8e;left:-128.8px;width:800px;text-align:center;">38</div>
<div class="t" style="top:2928.1px;font-size:20px;color:#808080;left:-84.2px;width:800px;text-align:center;">B6</div>
<div class="t" style="top:2830.4px;font-size:20.5px;color:#6fae8e;left:-84.2px;width:800px;text-align:center;">33</div>
<div class="t" style="top:2928.1px;font-size:20px;color:#808080;left:-39.8px;width:800px;text-align:center;">B9</div>
<div class="t" style="top:2872.8px;font-size:20.5px;color:#6fae8e;left:-39.8px;width:800px;text-align:center;">9</div>
<div class="t" style="top:2928.1px;font-size:20px;color:#808080;left:4.8px;width:800px;text-align:center;">B12</div>
<div class="t" style="top:2879.8px;font-size:20.5px;color:#6fae8e;left:4.8px;width:800px;text-align:center;">5</div>
<div class="t" style="top:2928.1px;font-size:20px;color:#808080;left:49.2px;width:800px;text-align:center;">C</div>
<div class="t" style="top:2871.0px;font-size:20.5px;color:#6fae8e;left:49.2px;width:800px;text-align:center;">10</div>
<div class="t" style="top:2928.1px;font-size:20px;color:#808080;left:93.8px;width:800px;text-align:center;">D</div>
<div class="t" style="top:2879.8px;font-size:20.5px;color:#6fae8e;left:93.8px;width:800px;text-align:center;">5</div>
<div class="t" style="top:2928.1px;font-size:20px;color:#808080;left:138.2px;width:800px;text-align:center;">E</div>
<div class="t" style="top:2853.3px;font-size:20.5px;color:#6fae8e;left:138.2px;width:800px;text-align:center;">20</div>
<div class="t" style="top:2928.1px;font-size:20px;color:#808080;left:182.8px;width:800px;text-align:center;">K</div>
<div class="t" style="top:2763.3px;font-size:20.5px;color:#6fae8e;left:182.8px;width:800px;text-align:center;">71</div>
<div class="t" style="top:3002.9px;font-size:43.5px;color:#7a5fe0;font-weight:700;left:29.2px;">MINERALS</div>
<div class="t" style="top:3048.3px;font-size:18.5px;color:#7a5fe0;left:29.0px;transform:scaleX(0.9893);transform-origin:left center;">(% OF DAILY VALUE)</div>
<svg style="position:absolute;left:0;top:3012px" width="650" height="60" viewBox="0 3012 650 60"><circle cx="230.0" cy="3056.5" r="8.0" fill="#9060f8"/><rect x="242.5" y="3051.0" width="427.5" height="14.0" rx="7.0" fill="#9060f8"/><rect x="272.5" y="3036.0" width="397.5" height="16.0" rx="8.0" fill="#9060f8"/><rect x="342.5" y="3021.0" width="327.5" height="16.0" rx="8.0" fill="#9060f8"/><rect x="286" y="3044" width="370" height="14" fill="#9060f8"/><rect x="356" y="3029" width="300" height="14" fill="#9060f8"/><circle cx="331.0" cy="3027.5" r="7.0" fill="#9060f8"/><circle cx="320.0" cy="3051.0" r="8.0" fill="#b995fa"/><rect x="332.5" y="3044.0" width="253.5" height="15.0" rx="7.5" fill="#b995fa"/><rect x="362.5" y="3031.0" width="193.5" height="14.0" rx="7.0" fill="#b995fa"/><rect x="370" y="3038" width="180" height="13" fill="#b995fa"/><circle cx="599.0" cy="3050.5" r="7.5" fill="#b995fa"/></svg>
<svg style="position:absolute;left:0;top:3113px" width="650" height="197" viewBox="0 3113 650 197"><rect x="71" y="3299.25" width="535" height="1.5" fill="#cfcfcf"/><rect x="71" y="3263.95" width="535" height="1.5" fill="#e2e2e2"/><rect x="71" y="3228.65" width="535" height="1.5" fill="#e2e2e2"/><rect x="71" y="3193.35" width="535" height="1.5" fill="#e2e2e2"/><rect x="71" y="3158.05" width="535" height="1.5" fill="#e2e2e2"/><rect x="71" y="3122.75" width="535" height="1.5" fill="#e2e2e2"/><rect x="70.25" y="3122.75" width="1.5" height="178.00" fill="#d4d4d4"/><rect x="92.40" y="3276.05" width="16.2" height="23.95" fill="#7b69e6"/><rect x="151.70" y="3290.18" width="16.2" height="9.82" fill="#7b69e6"/><rect x="211.00" y="3246.05" width="16.2" height="53.95" fill="#7b69e6"/><rect x="270.30" y="3276.05" width="16.2" height="23.95" fill="#7b69e6"/><rect x="329.60" y="3281.35" width="16.2" height="18.65" fill="#7b69e6"/><rect x="388.90" y="3263.70" width="16.2" height="36.30" fill="#7b69e6"/><rect x="448.20" y="3237.22" width="16.2" height="62.77" fill="#7b69e6"/><rect x="507.50" y="3228.40" width="16.2" height="71.60" fill="#7b69e6"/><rect x="566.80" y="3284.88" width="16.2" height="15.12" fill="#7b69e6"/></svg>
<div class="t" style="top:3290.3px;font-size:20px;color:#878787;right:587.5px;transform:scaleX(1.1236);transform-origin:right center;">0</div>
<div class="t" style="top:3255.0px;font-size:20px;color:#878787;right:587.5px;transform:scaleX(1.0787);transform-origin:right center;">20</div>
<div class="t" style="top:3219.7px;font-size:20px;color:#878787;right:587.5px;transform:scaleX(1.1236);transform-origin:right center;">40</div>
<div class="t" style="top:3184.4px;font-size:20px;color:#878787;right:587.5px;transform:scaleX(1.1236);transform-origin:right center;">60</div>
<div class="t" style="top:3149.1px;font-size:20px;color:#878787;right:587.5px;transform:scaleX(1.1236);transform-origin:right center;">80</div>
<div class="t" style="top:3113.8px;font-size:20px;color:#878787;right:587.5px;transform:scaleX(1.0187);transform-origin:right center;">100</div>
<div class="t" style="top:3310.6px;font-size:20px;color:#808080;left:-299.5px;width:800px;text-align:center;">Ca</div>
<div class="t" style="top:3248.2px;font-size:20.5px;color:#8878e2;left:-299.5px;width:800px;text-align:center;">13</div>
<div class="t" style="top:3310.6px;font-size:20px;color:#808080;left:-240.2px;width:800px;text-align:center;">Cu</div>
<div class="t" style="top:3262.3px;font-size:20.5px;color:#8878e2;left:-240.2px;width:800px;text-align:center;">5</div>
<div class="t" style="top:3310.6px;font-size:20px;color:#808080;left:-180.9px;width:800px;text-align:center;">Fe</div>
<div class="t" style="top:3218.2px;font-size:20.5px;color:#8878e2;left:-180.9px;width:800px;text-align:center;">30</div>
<div class="t" style="top:3310.6px;font-size:20px;color:#808080;left:-121.6px;width:800px;text-align:center;">K</div>
<div class="t" style="top:3248.2px;font-size:20.5px;color:#8878e2;left:-121.6px;width:800px;text-align:center;">13</div>
<div class="t" style="top:3310.6px;font-size:20px;color:#808080;left:-62.3px;width:800px;text-align:center;">Mg</div>
<div class="t" style="top:3253.5px;font-size:20.5px;color:#8878e2;left:-62.3px;width:800px;text-align:center;">10</div>
<div class="t" style="top:3310.6px;font-size:20px;color:#808080;left:-3.0px;width:800px;text-align:center;">Mn</div>
<div class="t" style="top:3235.8px;font-size:20.5px;color:#8878e2;left:-3.0px;width:800px;text-align:center;">20</div>
<div class="t" style="top:3310.6px;font-size:20px;color:#808080;left:56.3px;width:800px;text-align:center;">P</div>
<div class="t" style="top:3209.4px;font-size:20.5px;color:#8878e2;left:56.3px;width:800px;text-align:center;">35</div>
<div class="t" style="top:3310.6px;font-size:20px;color:#808080;left:115.6px;width:800px;text-align:center;">Se</div>
<div class="t" style="top:3200.5px;font-size:20.5px;color:#8878e2;left:115.6px;width:800px;text-align:center;">40</div>
<div class="t" style="top:3310.6px;font-size:20px;color:#808080;left:174.9px;width:800px;text-align:center;">Zn</div>
<div class="t" style="top:3257.0px;font-size:20.5px;color:#8878e2;left:174.9px;width:800px;text-align:center;">8</div>
<svg style="position:absolute;left:0;top:3380px" width="650" height="60" viewBox="0 3380 650 60"><rect x="-20.0" y="3388.5" width="299.0" height="14.5" rx="7.2" fill="#efc267"/><rect x="-20.0" y="3402.0" width="270.0" height="15.0" rx="7.5" fill="#efc267"/><rect x="-20.0" y="3416.0" width="200.0" height="15.0" rx="7.5" fill="#efc267"/><rect x="-10" y="3396" width="250" height="14" fill="#efc267"/><rect x="-10" y="3410" width="180" height="14" fill="#efc267"/><circle cx="291.5" cy="3395.5" r="7.2" fill="#efc267"/><circle cx="189.5" cy="3425.0" r="8.0" fill="#efc267"/><rect x="-20.0" y="3402.5" width="207.0" height="15.5" rx="7.8" fill="#fbd588"/><rect x="-20.0" y="3417.0" width="180.0" height="13.0" rx="6.5" fill="#fbd588"/><rect x="-10" y="3410" width="160" height="13" fill="#fbd588"/><circle cx="201.5" cy="3409.5" r="8.0" fill="#fbd588"/></svg>
<div class="t" style="top:3382.0px;font-size:41px;color:#ecc065;font-weight:700;right:28.0px;transform:scaleX(1.1109);transform-origin:right center;">AMINO ACIDS</div>
<div class="t" style="top:3428.6px;font-size:17px;color:#ecc065;right:31.5px;transform:scaleX(1.0571);transform-origin:right center;">THESE ARE ESSENTIAL FOR YOUR BODY</div>
<svg style="position:absolute;left:0;top:3463px" width="650" height="90" viewBox="0 3463 650 90"><circle cx="107.0" cy="3487.5" r="11.3" fill="#f9d48a"/><circle cx="49.7" cy="3531.1" r="8.2" fill="#f9d48a"/><circle cx="78.0" cy="3508.0" r="32.3" fill="#ecc067"/><circle cx="178.0" cy="3486.9" r="8.2" fill="#f9d48a"/><circle cx="232.5" cy="3528.0" r="11.3" fill="#f9d48a"/><circle cx="202.0" cy="3508.0" r="32.3" fill="#ecc067"/><circle cx="302.0" cy="3485.0" r="8.2" fill="#f9d48a"/><circle cx="354.0" cy="3489.5" r="12.3" fill="#f9d48a"/><circle cx="300.1" cy="3529.6" r="8.2" fill="#f9d48a"/><circle cx="326.5" cy="3508.0" r="32.3" fill="#ecc067"/><circle cx="479.0" cy="3488.5" r="11.8" fill="#f9d48a"/><circle cx="426.1" cy="3529.6" r="7.7" fill="#f9d48a"/><circle cx="452.0" cy="3508.0" r="32.3" fill="#ecc067"/><circle cx="554.5" cy="3487.9" r="9.2" fill="#f9d48a"/><circle cx="552.5" cy="3529.6" r="7.7" fill="#f9d48a"/><circle cx="577.5" cy="3508.0" r="32.3" fill="#ecc067"/></svg>
<div class="t" style="top:3494.7px;font-size:22px;color:#fff;font-weight:700;left:-322.0px;width:800px;text-align:center;transform:scaleX(1.0624);transform-origin:center center;">0.72</div>
<div class="t" style="top:3515.8px;font-size:15px;color:#fff;left:-322.0px;width:800px;text-align:center;">g</div>
<div class="t" style="top:3555.7px;font-size:21px;color:#5a5a5a;left:-322.0px;width:800px;text-align:center;transform:scaleX(1.0056);transform-origin:center center;">Histidine</div>
<div class="t" style="top:3494.7px;font-size:22px;color:#fff;font-weight:700;left:-198.0px;width:800px;text-align:center;transform:scaleX(1.0274);transform-origin:center center;">1.02</div>
<div class="t" style="top:3515.8px;font-size:15px;color:#fff;left:-198.0px;width:800px;text-align:center;">g</div>
<div class="t" style="top:3555.7px;font-size:21px;color:#5a5a5a;left:-198.5px;width:800px;text-align:center;transform:scaleX(0.9835);transform-origin:center center;">Isoleucine</div>
<div class="t" style="top:3494.7px;font-size:22px;color:#fff;font-weight:700;left:-73.5px;width:800px;text-align:center;transform:scaleX(1.0274);transform-origin:center center;">1.85</div>
<div class="t" style="top:3515.8px;font-size:15px;color:#fff;left:-73.5px;width:800px;text-align:center;">g</div>
<div class="t" style="top:3555.7px;font-size:21px;color:#5a5a5a;left:-74.0px;width:800px;text-align:center;">Leucine</div>
<div class="t" style="top:3494.7px;font-size:22px;color:#fff;font-weight:700;left:52.0px;width:800px;text-align:center;transform:scaleX(1.0274);transform-origin:center center;">1.74</div>
<div class="t" style="top:3515.8px;font-size:15px;color:#fff;left:52.0px;width:800px;text-align:center;">g</div>
<div class="t" style="top:3555.7px;font-size:21px;color:#5a5a5a;left:50.0px;width:800px;text-align:center;transform:scaleX(0.9844);transform-origin:center center;">Lysine</div>
<div class="t" style="top:3494.7px;font-size:22px;color:#fff;font-weight:700;left:177.5px;width:800px;text-align:center;transform:scaleX(1.0624);transform-origin:center center;">0.59</div>
<div class="t" style="top:3515.8px;font-size:15px;color:#fff;left:177.5px;width:800px;text-align:center;">g</div>
<div class="t" style="top:3555.7px;font-size:21px;color:#5a5a5a;left:174.0px;width:800px;text-align:center;transform:scaleX(1.0221);transform-origin:center center;">Methionine</div>
<svg style="position:absolute;left:0;top:3594px" width="650" height="90" viewBox="0 3594 650 90"><circle cx="105.0" cy="3619.5" r="11.3" fill="#f9d48a"/><circle cx="49.2" cy="3663.5" r="8.2" fill="#f9d48a"/><circle cx="77.5" cy="3639.0" r="32.3" fill="#ecc067"/><circle cx="177.5" cy="3617.4" r="8.2" fill="#f9d48a"/><circle cx="230.0" cy="3659.5" r="11.3" fill="#f9d48a"/><circle cx="201.0" cy="3639.0" r="32.3" fill="#ecc067"/><circle cx="303.0" cy="3616.5" r="8.2" fill="#f9d48a"/><circle cx="353.0" cy="3657.5" r="11.3" fill="#f9d48a"/><circle cx="327.0" cy="3639.0" r="32.3" fill="#ecc067"/><circle cx="429.9" cy="3614.5" r="8.2" fill="#f9d48a"/><circle cx="475.5" cy="3615.5" r="11.3" fill="#f9d48a"/><circle cx="428.0" cy="3656.8" r="8.2" fill="#f9d48a"/><circle cx="452.0" cy="3639.0" r="32.3" fill="#ecc067"/></svg>
<div class="t" style="top:3625.7px;font-size:22px;color:#fff;font-weight:700;left:-322.5px;width:800px;text-align:center;transform:scaleX(1.0624);transform-origin:center center;">0.94</div>
<div class="t" style="top:3646.8px;font-size:15px;color:#fff;left:-322.5px;width:800px;text-align:center;">g</div>
<div class="t" style="top:3686.7px;font-size:21px;color:#5a5a5a;left:-321.4px;width:800px;text-align:center;transform:scaleX(0.9929);transform-origin:center center;">Phenylalanine</div>
<div class="t" style="top:3625.7px;font-size:22px;color:#fff;font-weight:700;left:-199.0px;width:800px;text-align:center;transform:scaleX(1.0624);transform-origin:center center;">0.99</div>
<div class="t" style="top:3646.8px;font-size:15px;color:#fff;left:-199.0px;width:800px;text-align:center;">g</div>
<div class="t" style="top:3686.7px;font-size:21px;color:#5a5a5a;left:-199.7px;width:800px;text-align:center;transform:scaleX(1.0099);transform-origin:center center;">Threonine</div>
<div class="t" style="top:3625.7px;font-size:22px;color:#fff;font-weight:700;left:-73.0px;width:800px;text-align:center;transform:scaleX(1.0624);transform-origin:center center;">0.27</div>
<div class="t" style="top:3646.8px;font-size:15px;color:#fff;left:-73.0px;width:800px;text-align:center;">g</div>
<div class="t" style="top:3686.7px;font-size:21px;color:#5a5a5a;left:-73.5px;width:800px;text-align:center;transform:scaleX(1.0052);transform-origin:center center;">Tryptophan</div>
<div class="t" style="top:3625.7px;font-size:22px;color:#fff;font-weight:700;left:52.0px;width:800px;text-align:center;transform:scaleX(1.0274);transform-origin:center center;">1.07</div>
<div class="t" style="top:3646.8px;font-size:15px;color:#fff;left:52.0px;width:800px;text-align:center;">g</div>
<div class="t" style="top:3686.7px;font-size:21px;color:#5a5a5a;left:49.5px;width:800px;text-align:center;transform:scaleX(1.0294);transform-origin:center center;">Valine</div>
<svg style="position:absolute;left:0;top:3620px" width="650" height="55" viewBox="0 3620 650 55"><rect x="525.0" y="3629.0" width="145.0" height="14.0" rx="7.0" fill="#f5f5f5"/><rect x="543.0" y="3653.0" width="127.0" height="14.0" rx="7.0" fill="#f5f5f5"/><rect x="560" y="3636" width="60" height="24" fill="#f5f5f5"/><rect x="625" y="3636" width="30" height="24" fill="#f5f5f5"/><rect x="535.0" y="3643.0" width="48.0" height="10.0" rx="5.0" fill="#fff"/><rect x="606.0" y="3643.0" width="34.0" height="10.0" rx="5.0" fill="#fff"/><circle cx="534.0" cy="3661.0" r="6.0" fill="#f5f5f5"/></svg>
<div style="position:absolute;left:0;top:3755px;width:650px;height:236px;background:#b85a24"></div>
<svg style="position:absolute;left:0;top:3725px" width="650" height="35" viewBox="0 3725 650 35"><path d="M0,3737.1 L10,3738.0 L20,3738.9 L30,3740.0 L40,3741.0 L50,3742.0 L60,3743.1 L70,3744.0 L80,3744.9 L90,3745.8 L100,3746.5 L110,3747.1 L120,3747.5 L130,3747.8 L140,3748.0 L150,3748.0 L160,3747.8 L170,3747.5 L180,3747.1 L190,3746.5 L200,3745.8 L210,3744.9 L220,3744.0 L230,3743.1 L240,3742.0 L250,3741.0 L260,3740.0 L270,3738.9 L280,3738.0 L290,3737.1 L300,3736.2 L310,3735.5 L320,3734.9 L330,3734.5 L340,3734.2 L350,3734.0 L360,3734.0 L370,3734.2 L380,3734.5 L390,3734.9 L400,3735.5 L410,3736.2 L420,3737.1 L430,3738.0 L440,3738.9 L450,3740.0 L460,3741.0 L470,3742.0 L480,3743.1 L490,3744.0 L500,3744.9 L510,3745.8 L520,3746.5 L530,3747.1 L540,3747.5 L550,3747.8 L560,3748.0 L570,3748.0 L580,3747.8 L590,3747.5 L600,3747.1 L610,3746.5 L620,3745.8 L630,3744.9 L640,3744.0 L650,3743.1 L650,3760 L0,3760 Z" fill="#de834f"/><path d="M0,3744.9 L10,3744.0 L20,3743.1 L30,3742.0 L40,3741.0 L50,3740.0 L60,3738.9 L70,3738.0 L80,3737.1 L90,3736.2 L100,3735.5 L110,3734.9 L120,3734.5 L130,3734.2 L140,3734.0 L150,3734.0 L160,3734.2 L170,3734.5 L180,3734.9 L190,3735.5 L200,3736.2 L210,3737.1 L220,3738.0 L230,3738.9 L240,3740.0 L250,3741.0 L260,3742.0 L270,3743.1 L280,3744.0 L290,3744.9 L300,3745.8 L310,3746.5 L320,3747.1 L330,3747.5 L340,3747.8 L350,3748.0 L360,3748.0 L370,3747.8 L380,3747.5 L390,3747.1 L400,3746.5 L410,3745.8 L420,3744.9 L430,3744.0 L440,3743.1 L450,3742.0 L460,3741.0 L470,3740.0 L480,3738.9 L490,3738.0 L500,3737.1 L510,3736.2 L520,3735.5 L530,3734.9 L540,3734.5 L550,3734.2 L560,3734.0 L570,3734.0 L580,3734.2 L590,3734.5 L600,3734.9 L610,3735.5 L620,3736.2 L630,3737.1 L640,3738.0 L650,3738.9 L650,3760 L0,3760 Z" fill="#b85a24"/></svg>
<svg style="position:absolute;left:0;top:3765px" width="650" height="195" viewBox="0 3765 650 195"><g fill="none" stroke="#fff" stroke-linecap="round" stroke-linejoin="round"><path d="M272 3803 C264 3797 258 3791 258 3784.5 C258 3779.5 261.5 3776.5 265.5 3776.5 C269 3776.5 271 3778.5 272.5 3781.5" stroke-width="3"/><path d="M272 3803 C280 3796 286.5 3790 287.5 3783" stroke-width="3"/></g><path d="M273.5 3786 C273 3778 280 3772.5 293.5 3771.5 C293.5 3781 287 3788.5 275.5 3787.5 Z" fill="#fff"/><path d="M275 3787 C279 3781 284 3777 290 3774" stroke="#b85a24" stroke-width="1.1" fill="none"/><g transform="translate(-1.500 -1.800)"><g fill="none" stroke="#fff" stroke-width="1.700" stroke-linecap="round" stroke-linejoin="round"><path d="M310 3786 V3802"/><path d="M319 3786 V3802 M319 3792 C319 3783.5 333 3783.5 333 3792 V3802"/><path d="M342 3776.5 V3802"/><path d="M351 3786 V3802"/><path d="M357.500 3786 L364.5 3802 L371.5 3786"/><circle cx="383.5" cy="3794" r="8.3"/></g><circle cx="310" cy="3779.5" r="1.3" fill="#fff"/><circle cx="351" cy="3779.5" r="1.3" fill="#fff"/></g><g fill="none" stroke="#fff" stroke-linejoin="round"><path d="M295 3930 V3912.300 Q295 3909.800 297.5 3909.800 H343.500 Q346 3909.800 346 3912.300 V3920" stroke-width="2.6"/><rect x="289.600" y="3930.500" width="12.400" height="23" rx="2" stroke-width="2"/><rect x="338.700" y="3921" width="21.600" height="31.600" rx="2.500" stroke-width="2.400"/></g><rect x="304" y="3938" width="32" height="6.600" fill="#fff"/><rect x="316.500" y="3944" width="10" height="6.500" fill="#fff"/><rect x="312.500" y="3950" width="17" height="3" rx="1" fill="#fff"/><circle cx="320.800" cy="3941.300" r="1.300" fill="#b85a24"/><rect x="293.300" y="3934.200" width="5" height="1.200" fill="#fff"/><circle cx="295.800" cy="3949.500" r="1.400" fill="#fff"/><circle cx="345.500" cy="3948" r="1.100" fill="#fff"/><circle cx="349.500" cy="3948" r="1.100" fill="#fff"/><circle cx="353.500" cy="3948" r="1.100" fill="#fff"/></svg>
<div class="t" style="top:3812.5px;font-size:16px;color:#fff;left:-75.0px;width:800px;text-align:center;transform:scaleX(0.9920);transform-origin:center center;">Nutrition Tracker &amp; Health Coach</div>
<div class="t" style="top:3833.0px;font-size:16px;color:#fff;letter-spacing:1.5px;left:-74.5px;width:800px;text-align:center;transform:scaleX(1.0816);transform-origin:center center;">www.inlivo.com</div>
<div style="position:absolute;left:255px;top:3850px;width:141px;height:1.200px;background:#fff"></div>
<div class="t" style="top:3863.6px;font-size:13.5px;color:#fff;left:-75.0px;width:800px;text-align:center;transform:scaleX(1.0130);transform-origin:center center;">Nothing contained in this presentation and our services is intended or implied</div>
<div class="t" style="top:3881.6px;font-size:13.5px;color:#fff;left:-75.0px;width:800px;text-align:center;">to be a medical advice, diagnosis or treatment.</div>
<div class="t" style="top:3957.6px;font-size:13.5px;color:#f3c4a5;font-weight:700;left:-75.0px;width:800px;text-align:center;transform:scaleX(0.9870);transform-origin:center center;">Available on your desktop, tablet and mobile phone</div>

</div></body></html>
